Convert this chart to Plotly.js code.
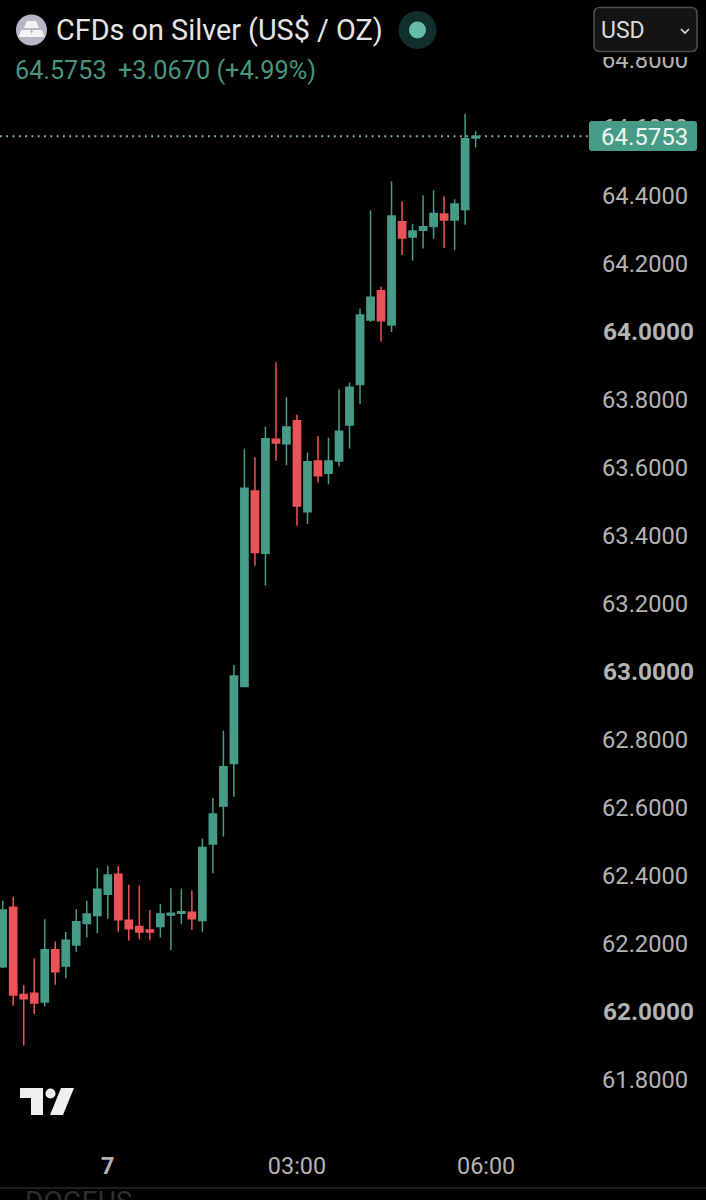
<!DOCTYPE html>
<html><head><meta charset="utf-8">
<script src="https://cdn.plot.ly/plotly-3.0.1.min.js"></script>
<style>html,body{margin:0;padding:0;background:#000;}#c{width:706px;height:1200px;}</style>
</head><body><div id="c"></div>
<script>
var barIndex=[0,1,2,3,4,5,6,7,8,9,10,11,12,13,14,15,16,17,18,19,20,21,22,23,24,25,26,27,28,29,30,31,32,33,34,35,36,37,38,39,40,41,42,43,44,45];
var openP=[62.133,62.308,62.051,62.055,62.029,62.183,62.135,62.197,62.260,62.284,62.346,62.405,62.270,62.251,62.241,62.251,62.285,62.290,62.293,62.269,62.494,62.606,62.731,62.957,63.532,63.349,63.684,63.671,63.739,63.471,63.620,63.584,63.620,63.726,63.845,64.035,64.121,64.020,64.324,64.279,64.299,64.310,64.347,64.329,64.360,64.5700];
var highP=[62.327,62.339,62.079,62.158,62.273,62.207,62.235,62.302,62.327,62.424,62.431,62.429,62.374,62.371,62.300,62.317,62.364,62.363,62.357,62.510,62.629,62.827,63.020,63.656,63.631,63.721,63.911,63.808,63.756,63.645,63.694,63.689,63.831,63.851,64.069,64.358,64.133,64.443,64.384,64.318,64.402,64.416,64.399,64.390,64.641,64.590];
var lowP=[62.129,62.018,61.901,61.994,62.016,62.080,62.099,62.177,62.219,62.231,62.274,62.236,62.210,62.214,62.211,62.219,62.182,62.258,62.241,62.236,62.408,62.516,62.633,62.956,63.312,63.254,63.621,63.608,63.430,63.435,63.557,63.552,63.605,63.657,63.788,64.029,63.971,64.000,64.226,64.209,64.245,64.274,64.247,64.240,64.315,64.542];
var closeP=[62.300,62.050,62.039,62.026,62.183,62.118,62.211,62.265,62.288,62.361,62.403,62.271,62.245,62.235,62.235,62.288,62.290,62.295,62.274,62.484,62.582,62.721,62.988,63.540,63.351,63.686,63.673,63.720,63.488,63.618,63.577,63.620,63.708,63.837,64.050,64.102,64.033,64.341,64.276,64.297,64.309,64.348,64.329,64.376,64.568,64.5753];
var priceTicks=[61.8,62.0,62.2,62.4,62.6,62.8,63.0,63.2,63.4,63.6,63.8,64.0,64.2,64.4,64.6,64.8];
var boldStyle='<span style="font-size:24.4px"><b>';
var priceLabels=["61.8000&nbsp;",boldStyle+"62.0000</b></span>","62.2000&nbsp;","62.4000&nbsp;","62.6000&nbsp;","62.8000&nbsp;",boldStyle+"63.0000</b></span>","63.2000&nbsp;","63.4000&nbsp;","63.6000&nbsp;","63.8000&nbsp;",boldStyle+"64.0000</b></span>","64.2000&nbsp;","64.4000&nbsp;","64.6000&nbsp;","64.8000&nbsp;"];
var timeTicks=[10,28,46];
var timeLabels=["<b>7</b>","03:00","06:00"];
var lastPrice=64.5753;

var GREEN="#479c87",RED="#ea5358",W=706,H=1200;
function X(x){return x/W;} function Y(y){return 1-y/H;}
function poly(p){return "M"+p.map(function(q){return X(q[0])+","+Y(q[1]);}).join("L")+"Z";}
function rect(x0,y0,x1,y1,fill,line){return {type:"rect",xref:"paper",yref:"paper",x0:X(x0),y0:Y(y0),x1:X(x1),y1:Y(y1),fillcolor:fill,line:line||{width:0},layer:"above"};}
function circ(cx,cy,r,fill){return {type:"circle",xref:"paper",yref:"paper",x0:X(cx-r),x1:X(cx+r),y0:Y(cy-r),y1:Y(cy+r),fillcolor:fill,line:{width:0},layer:"above"};}
function path(d,fill,line){return {type:"path",xref:"paper",yref:"paper",path:d,fillcolor:fill,line:line||{width:0},layer:"above"};}
function roundRect(x0,y0,x1,y1,r){
 return "M"+X(x0+r)+","+Y(y0)+"L"+X(x1-r)+","+Y(y0)+"Q"+X(x1)+","+Y(y0)+" "+X(x1)+","+Y(y0+r)+"L"+X(x1)+","+Y(y1-r)+"Q"+X(x1)+","+Y(y1)+" "+X(x1-r)+","+Y(y1)+"L"+X(x0+r)+","+Y(y1)+"Q"+X(x0)+","+Y(y1)+" "+X(x0)+","+Y(y1-r)+"L"+X(x0)+","+Y(y0+r)+"Q"+X(x0)+","+Y(y0)+" "+X(x0+r)+","+Y(y0)+"Z";
}
var shapes=[
 {type:"line",xref:"paper",yref:"y",x0:0,x1:X(589),y0:lastPrice,y1:lastPrice,line:{color:"#8abcae",width:1.8,dash:"1.8px,4.5px"},layer:"below"},
 rect(588,0,706,57,"#000"),
 rect(0,0,588,52,"#000"),
 path(roundRect(594,7.5,697,51.5,6),"#141414",{color:"#4d4d4d",width:1.6}),
 path("M"+X(681)+","+Y(29)+"L"+X(685)+","+Y(33)+"L"+X(689)+","+Y(29),"rgba(0,0,0,0)",{color:"#dddddd",width:1.6}),
 path(roundRect(589,121,697,151,3),GREEN),
 circ(31.5,30,15.5,"#b7b5c6"),
 path(poly([[27,21],[36,21],[39,28],[24,28]]),"#f4f4f6"),
 path(poly([[21,30],[30,30],[32.5,37],[18.5,37]]),"#f4f4f6"),
 path(poly([[33,30],[42,30],[44.5,37],[30.5,37]]),"#f4f4f6"),
 circ(417.5,30,19,"#12302b"),
 circ(417.5,30,8.5,"#64bda8"),
 path(poly([[20,1088],[43,1088],[43,1115],[31,1115],[31,1098],[20,1098]]),"#efefef"),
 circ(50.5,1093.5,5,"#efefef"),
 path(poly([[61,1088],[74,1088],[63,1115],[50,1115]]),"#efefef"),
 {type:"line",xref:"paper",yref:"paper",x0:0,x1:1,y0:Y(1188),y1:Y(1188),line:{color:"#3a3a3a",width:1.2},layer:"above"}
];
function note(text,x,y,size,color,anchor){return {text:text,xref:"paper",yref:"paper",x:X(x),y:Y(y),xanchor:anchor||"left",yanchor:"middle",showarrow:false,font:{family:"Roboto, sans-serif",size:size,color:color},borderpad:0};}
var annotations=[
 note("CFDs on Silver (US$ / OZ)",54.5,30,28.8,"#e6e6e6"),
 note("64.5753",14,70,25.2,"#46967f"),
 note("+3.0670 (+4.99%)",116.5,70,25.3,"#46967f"),
 note("USD",600,30,23,"#dcdcdc"),
 note("64.5753",689,136.5,24,"#eef6f3","right"),
 note("DOGEUS",24,1201,28,"#2e2e2e")
];
var trace={type:"candlestick",x:barIndex,open:openP,high:highP,low:lowP,close:closeP,
 increasing:{line:{color:GREEN,width:1.5},fillcolor:GREEN},
 decreasing:{line:{color:RED,width:1.5},fillcolor:RED},
 whiskerwidth:0,hoverinfo:"skip",showlegend:false};
var layout={width:W,height:H,margin:{l:0,r:0,t:0,b:0,pad:0},paper_bgcolor:"#000",plot_bgcolor:"#000",boxgap:0.17,boxgroupgap:0.17,showlegend:false,
 font:{family:"Roboto, sans-serif"},
 xaxis:{type:"linear",range:[-0.257,66.92],rangeslider:{visible:false},showgrid:false,zeroline:false,showline:false,ticks:"",tickmode:"array",tickvals:timeTicks,ticktext:timeLabels,ticklabelposition:"inside",ticklabelstandoff:18,tickfont:{family:"Roboto, sans-serif",size:23.4,color:"#b4b4b4"}},
 yaxis:{type:"linear",side:"right",range:[61.447,64.976],showgrid:false,zeroline:false,showline:false,ticks:"",tickmode:"array",tickvals:priceTicks,ticktext:priceLabels,ticklabelposition:"inside",ticklabelstandoff:9,tickfont:{family:"Roboto, sans-serif",size:23.7,color:"#b4b4b4"}},
 shapes:shapes,annotations:annotations};
Plotly.newPlot("c",[trace],layout,{displayModeBar:false,staticPlot:true});
</script></body></html>
